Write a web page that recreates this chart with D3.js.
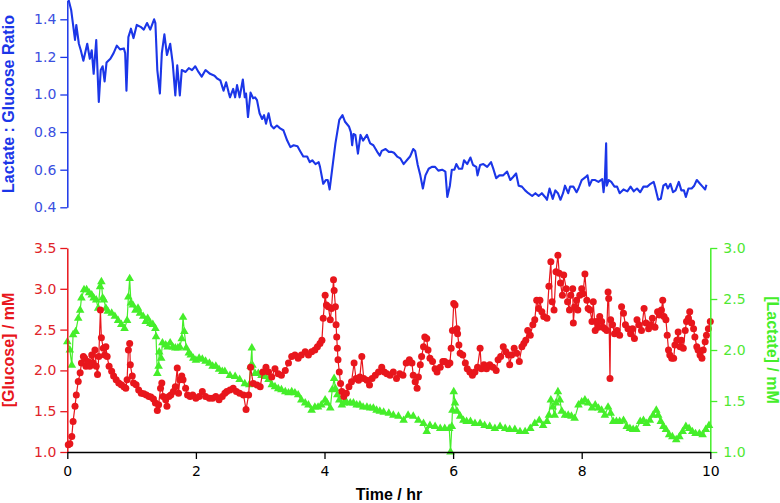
<!DOCTYPE html>
<html>
<head>
<meta charset="utf-8">
<script src="https://cdn.jsdelivr.net/npm/d3@7"></script>
<style>
	body { margin: 0; background: #fff; }
	svg { display: block; }
	.tick text { font-family: "DejaVu Sans", sans-serif; font-size: 14px; }
	.axisTitle { font-family: "Liberation Sans", Arial, sans-serif; font-size: 16px; font-weight: bold; }
</style>
</head>
<body>
<div id="chart"></div>
<script>
// time axis (hr)
const xTicks = [0, 2, 4, 6, 8, 10];
const ratioTicks = [0.4, 0.6, 0.8, 1.0, 1.2, 1.4];
const glucoseTicks = [1.0, 1.5, 2.0, 2.5, 3.0, 3.5];
const lactateTicks = [1.0, 1.5, 2.0, 2.5, 3.0];

// Lactate : Glucose ratio, top panel
const ratioTime = [0.00, 0.06, 0.12, 0.14, 0.18, 0.21, 0.25, 0.31, 0.35, 0.38, 0.41, 0.45, 0.49, 0.52, 0.55, 0.58, 0.61, 0.67, 0.72, 0.77,
	0.82, 0.88, 0.90, 0.92, 0.95, 0.99, 1.03, 1.08, 1.14, 1.19, 1.24, 1.29, 1.35, 1.37, 1.40, 1.44, 1.47, 1.51, 1.55, 1.60,
	1.64, 1.68, 1.71, 1.75, 1.78, 1.84, 1.89, 1.94, 1.99, 2.04, 2.09, 2.15, 2.22, 2.29, 2.33, 2.38, 2.43, 2.47, 2.51, 2.53,
	2.58, 2.61, 2.64, 2.68, 2.73, 2.76, 2.78, 2.81, 2.85, 2.89, 2.92, 2.95, 2.99, 3.03, 3.06, 3.09, 3.13, 3.17, 3.21, 3.26,
	3.31, 3.36, 3.42, 3.47, 3.52, 3.58, 3.62, 3.67, 3.73, 3.77, 3.81, 3.86, 3.91, 3.93, 3.98, 4.02, 4.05, 4.08, 4.12, 4.17,
	4.23, 4.28, 4.32, 4.38, 4.41, 4.43, 4.45, 4.48, 4.52, 4.56, 4.60, 4.66, 4.71, 4.76, 4.82, 4.86, 4.89, 4.95, 5.00, 5.04,
	5.08, 5.13, 5.18, 5.23, 5.28, 5.33, 5.38, 5.41, 5.45, 5.49, 5.53, 5.57, 5.62, 5.67, 5.72, 5.77, 5.83, 5.88, 5.91, 5.95,
	5.98, 6.02, 6.05, 6.09, 6.14, 6.17, 6.22, 6.27, 6.31, 6.36, 6.38, 6.42, 6.47, 6.53, 6.59, 6.63, 6.67, 6.72, 6.78, 6.84,
	6.89, 6.93, 6.98, 7.02, 7.07, 7.12, 7.17, 7.23, 7.28, 7.33, 7.38, 7.43, 7.46, 7.50, 7.55, 7.59, 7.63, 7.67, 7.71, 7.74,
	7.79, 7.82, 7.87, 7.92, 7.95, 8.00, 8.06, 8.09, 8.12, 8.16, 8.21, 8.26, 8.32, 8.34, 8.36, 8.38, 8.39, 8.42, 8.46, 8.51,
	8.55, 8.59, 8.65, 8.71, 8.76, 8.81, 8.86, 8.91, 8.96, 9.02, 9.07, 9.12, 9.14, 9.19, 9.23, 9.27, 9.31, 9.34, 9.38, 9.42,
	9.46, 9.51, 9.55, 9.59, 9.62, 9.66, 9.71, 9.75, 9.79, 9.84, 9.88, 9.92, 9.94];
const ratioValue = [1.53, 1.45, 1.29, 1.37, 1.27, 1.235, 1.18, 1.27, 1.19, 1.235, 1.11, 1.29, 0.96, 1.13, 1.15, 1.07, 1.17, 1.19, 1.22, 1.26,
	1.24, 1.245, 1.22, 1.02, 1.305, 1.35, 1.30, 1.37, 1.36, 1.345, 1.38, 1.345, 1.40, 1.38, 1.13, 1.005, 1.22, 1.32, 1.21, 1.27,
	1.165, 0.995, 1.155, 0.995, 1.13, 1.12, 1.14, 1.13, 1.15, 1.12, 1.095, 1.13, 1.11, 1.10, 1.085, 1.075, 1.02, 1.065, 1.01, 0.985,
	1.03, 0.985, 1.05, 0.985, 1.08, 0.985, 1.005, 0.88, 1.01, 0.98, 0.985, 0.97, 0.90, 0.87, 0.89, 0.845, 0.90, 0.835, 0.82, 0.835,
	0.82, 0.81, 0.755, 0.72, 0.73, 0.725, 0.70, 0.67, 0.67, 0.64, 0.65, 0.63, 0.64, 0.615, 0.525, 0.545, 0.545, 0.495, 0.605, 0.74,
	0.865, 0.89, 0.855, 0.83, 0.80, 0.73, 0.79, 0.785, 0.685, 0.785, 0.755, 0.785, 0.74, 0.73, 0.695, 0.675, 0.70, 0.71, 0.695, 0.695,
	0.69, 0.67, 0.66, 0.63, 0.65, 0.67, 0.71, 0.70, 0.625, 0.57, 0.50, 0.57, 0.605, 0.615, 0.615, 0.595, 0.60, 0.59, 0.455, 0.515,
	0.60, 0.60, 0.63, 0.605, 0.605, 0.65, 0.63, 0.665, 0.625, 0.615, 0.57, 0.625, 0.63, 0.615, 0.64, 0.60, 0.555, 0.57, 0.57, 0.59,
	0.545, 0.56, 0.58, 0.515, 0.51, 0.49, 0.475, 0.46, 0.475, 0.46, 0.475, 0.455, 0.44, 0.50, 0.445, 0.49, 0.475, 0.44, 0.475, 0.515,
	0.475, 0.51, 0.51, 0.48, 0.50, 0.545, 0.56, 0.57, 0.515, 0.545, 0.545, 0.535, 0.55, 0.48, 0.545, 0.74, 0.515, 0.545, 0.535, 0.51,
	0.51, 0.475, 0.495, 0.485, 0.51, 0.485, 0.50, 0.48, 0.51, 0.51, 0.525, 0.535, 0.51, 0.44, 0.445, 0.515, 0.525, 0.50, 0.525, 0.48,
	0.49, 0.535, 0.49, 0.49, 0.455, 0.50, 0.50, 0.515, 0.545, 0.525, 0.51, 0.495, 0.52];

// [Glucose] / mM, bottom panel, red circles
const glucoseTime = [0.015, 0.04, 0.07, 0.09, 0.12, 0.14, 0.17, 0.20, 0.22, 0.25, 0.27, 0.29, 0.32, 0.35, 0.38, 0.40, 0.43, 0.45, 0.47, 0.49,
	0.515, 0.53, 0.56, 0.58, 0.60, 0.62, 0.65, 0.69, 0.72, 0.76, 0.80, 0.84, 0.88, 0.91, 0.93, 0.95, 0.97, 0.98, 1.01, 1.03,
	1.07, 1.11, 1.15, 1.19, 1.23, 1.27, 1.30, 1.34, 1.37, 1.40, 1.42, 1.45, 1.47, 1.49, 1.53, 1.55, 1.58, 1.61, 1.65, 1.68,
	1.71, 1.73, 1.75, 1.78, 1.80, 1.84, 1.87, 1.91, 1.95, 2.00, 2.05, 2.10, 2.15, 2.21, 2.26, 2.31, 2.36, 2.41, 2.45, 2.48,
	2.53, 2.58, 2.63, 2.68, 2.74, 2.78, 2.82, 2.85, 2.89, 2.95, 3.00, 3.04, 3.09, 3.13, 3.18, 3.23, 3.28, 3.33, 3.39, 3.44,
	3.49, 3.54, 3.59, 3.64, 3.70, 3.75, 3.80, 3.85, 3.89, 3.93, 3.96, 3.98, 4.01, 4.03, 4.06, 4.09, 4.11, 4.14, 4.15, 4.17,
	4.18, 4.19, 4.20, 4.21, 4.23, 4.25, 4.27, 4.30, 4.34, 4.38, 4.42, 4.46, 4.49, 4.53, 4.55, 4.58, 4.61, 4.66, 4.70, 4.74,
	4.79, 4.84, 4.89, 4.93, 4.97, 5.02, 5.07, 5.12, 5.17, 5.22, 5.27, 5.32, 5.36, 5.38, 5.41, 5.44, 5.46, 5.49, 5.51, 5.54,
	5.56, 5.59, 5.61, 5.64, 5.68, 5.72, 5.75, 5.80, 5.84, 5.87, 5.92, 5.95, 5.97, 5.99, 6.01, 6.03, 6.06, 6.07, 6.09, 6.11,
	6.15, 6.19, 6.22, 6.26, 6.30, 6.34, 6.38, 6.42, 6.44, 6.48, 6.52, 6.57, 6.62, 6.67, 6.70, 6.74, 6.78, 6.82, 6.86, 6.88,
	6.91, 6.95, 6.99, 7.03, 7.07, 7.10, 7.13, 7.16, 7.20, 7.24, 7.27, 7.30, 7.33, 7.35, 7.38, 7.41, 7.46, 7.49, 7.52, 7.54,
	7.57, 7.60, 7.63, 7.65, 7.67, 7.70, 7.72, 7.76, 7.78, 7.81, 7.83, 7.86, 7.87, 7.89, 7.92, 7.94, 7.97, 8.00, 8.02, 8.05,
	8.08, 8.10, 8.13, 8.16, 8.18, 8.21, 8.23, 8.26, 8.28, 8.31, 8.33, 8.36, 8.39, 8.41, 8.42, 8.44, 8.45, 8.48, 8.51, 8.55,
	8.59, 8.62, 8.65, 8.68, 8.72, 8.76, 8.79, 8.82, 8.86, 8.89, 8.93, 8.97, 9.00, 9.04, 9.07, 9.10, 9.14, 9.18, 9.21, 9.24,
	9.26, 9.28, 9.31, 9.33, 9.35, 9.37, 9.40, 9.43, 9.45, 9.48, 9.50, 9.53, 9.55, 9.58, 9.61, 9.63, 9.66, 9.68, 9.71, 9.74,
	9.76, 9.79, 9.81, 9.84, 9.87, 9.89, 9.92, 9.94, 9.97, 10.0];
const glucoseValue = [1.09, 1.10, 1.19, 1.375, 1.56, 1.70, 1.865, 1.97, 2.09, 2.17, 2.15, 2.05, 2.11, 2.05, 2.19, 2.09, 2.25, 2.05, 1.95, 2.17,
	2.74, 2.40, 2.27, 2.19, 2.29, 2.17, 2.05, 1.99, 1.93, 1.885, 1.845, 1.825, 1.80, 1.78, 1.885, 2.25, 2.33, 2.07, 1.93, 1.845,
	1.825, 1.76, 1.72, 1.715, 1.70, 1.68, 1.675, 1.65, 1.60, 1.51, 1.58, 1.78, 1.845, 1.68, 1.64, 1.56, 1.68, 1.70, 1.74, 1.80,
	2.03, 1.72, 1.885, 1.93, 1.885, 1.78, 1.70, 1.68, 1.70, 1.66, 1.68, 1.74, 1.68, 1.66, 1.66, 1.68, 1.64, 1.68, 1.72, 1.74,
	1.76, 1.78, 1.74, 1.72, 1.70, 1.52, 1.70, 2.04, 1.84, 1.82, 1.80, 1.98, 2.04, 1.98, 1.92, 2.02, 1.96, 1.94, 2.00, 2.09,
	2.17, 2.19, 2.15, 2.19, 2.23, 2.19, 2.23, 2.25, 2.29, 2.33, 2.37, 2.64, 2.92, 2.80, 2.78, 2.62, 2.76, 3.11, 2.98, 2.78,
	2.56, 2.41, 2.27, 2.13, 1.98, 1.84, 1.74, 1.68, 1.72, 1.80, 1.86, 2.09, 1.90, 1.88, 1.92, 2.17, 1.90, 1.88, 1.82, 1.90,
	1.94, 1.98, 2.04, 1.98, 1.96, 1.94, 1.98, 1.90, 1.96, 1.94, 2.09, 2.13, 2.09, 1.94, 1.86, 1.78, 1.92, 2.07, 2.17, 2.29,
	2.41, 2.39, 2.25, 2.15, 2.11, 2.02, 1.98, 2.04, 2.11, 2.11, 2.07, 2.09, 2.27, 2.49, 2.82, 2.80, 2.51, 2.45, 2.31, 2.21,
	2.19, 2.09, 2.02, 1.98, 1.94, 1.98, 2.04, 2.27, 2.02, 2.07, 2.02, 2.07, 2.04, 2.00, 2.13, 2.17, 2.29, 2.23, 2.19, 2.07,
	2.19, 2.27, 2.21, 2.11, 2.29, 2.33, 2.37, 2.49, 2.43, 2.56, 2.62, 2.86, 2.76, 2.86, 2.72, 2.66, 2.64, 3.03, 3.33, 2.84,
	2.74, 3.21, 3.41, 3.19, 3.07, 2.92, 3.17, 3.00, 2.84, 2.74, 2.92, 3.00, 2.58, 2.78, 2.86, 2.74, 2.92, 3.00, 2.94, 3.18,
	2.86, 2.76, 2.74, 2.60, 2.84, 2.49, 2.60, 2.53, 2.66, 2.60, 2.53, 2.51, 2.49, 2.96, 2.88, 1.90, 2.62, 2.56, 2.45, 2.49,
	2.43, 2.78, 2.70, 2.56, 2.51, 2.45, 2.51, 2.39, 2.62, 2.56, 2.49, 2.76, 2.58, 2.51, 2.56, 2.64, 2.53, 2.72, 2.68, 2.74,
	2.86, 2.66, 2.62, 2.43, 2.25, 2.19, 2.15, 2.15, 2.31, 2.37, 2.47, 2.29, 2.37, 2.27, 2.49, 2.60, 2.64, 2.72, 2.58, 2.51,
	2.41, 2.29, 2.25, 2.19, 2.15, 2.25, 2.35, 2.43, 2.51, 2.60];

// [Lactate] / mM, bottom panel, green triangles
const lactateTime = [0.00, 0.04, 0.07, 0.09, 0.13, 0.17, 0.20, 0.22, 0.26, 0.30, 0.34, 0.38, 0.41, 0.45, 0.48, 0.51, 0.53, 0.55, 0.57, 0.60,
	0.63, 0.69, 0.74, 0.79, 0.84, 0.89, 0.93, 0.95, 0.97, 0.99, 1.02, 1.06, 1.10, 1.13, 1.18, 1.22, 1.25, 1.29, 1.33, 1.37,
	1.38, 1.40, 1.42, 1.43, 1.46, 1.48, 1.53, 1.56, 1.60, 1.64, 1.68, 1.72, 1.75, 1.78, 1.80, 1.82, 1.85, 1.89, 1.92, 1.96,
	2.00, 2.05, 2.10, 2.15, 2.21, 2.26, 2.31, 2.36, 2.41, 2.45, 2.53, 2.61, 2.68, 2.76, 2.83, 2.85, 2.87, 2.88, 2.92, 2.97,
	3.02, 3.08, 3.13, 3.18, 3.23, 3.28, 3.33, 3.39, 3.44, 3.49, 3.54, 3.59, 3.64, 3.70, 3.75, 3.80, 3.85, 3.90, 3.95, 4.01,
	4.04, 4.09, 4.12, 4.15, 4.17, 4.20, 4.23, 4.27, 4.30, 4.34, 4.40, 4.45, 4.50, 4.55, 4.60, 4.66, 4.71, 4.76, 4.81, 4.86,
	4.92, 5.00, 5.07, 5.15, 5.23, 5.30, 5.38, 5.46, 5.54, 5.59, 5.64, 5.72, 5.80, 5.87, 5.94, 5.96, 5.98, 5.99, 6.01, 6.03,
	6.06, 6.11, 6.16, 6.21, 6.27, 6.34, 6.42, 6.49, 6.57, 6.65, 6.73, 6.81, 6.88, 6.96, 7.04, 7.12, 7.20, 7.27, 7.34, 7.40,
	7.46, 7.49, 7.52, 7.55, 7.58, 7.60, 7.63, 7.66, 7.69, 7.74, 7.79, 7.84, 7.89, 7.95, 8.00, 8.05, 8.10, 8.16, 8.21, 8.26,
	8.31, 8.36, 8.41, 8.45, 8.49, 8.54, 8.59, 8.65, 8.70, 8.75, 8.80, 8.85, 8.91, 8.96, 9.01, 9.06, 9.11, 9.16, 9.19, 9.23,
	9.27, 9.31, 9.36, 9.41, 9.47, 9.52, 9.57, 9.62, 9.67, 9.72, 9.77, 9.83, 9.88, 9.93, 9.98];
const lactateValue = [2.08, 2.00, 1.85, 2.15, 2.18, 2.31, 2.39, 2.51, 2.59, 2.59, 2.56, 2.54, 2.51, 2.49, 2.41, 2.62, 2.67, 2.51, 2.49, 2.41,
	2.38, 2.36, 2.33, 2.29, 2.25, 2.21, 2.29, 2.52, 2.70, 2.46, 2.44, 2.39, 2.41, 2.36, 2.33, 2.28, 2.31, 2.26, 2.25, 2.21,
	2.13, 1.77, 1.84, 1.98, 1.92, 2.07, 2.05, 2.03, 2.07, 2.03, 2.02, 2.02, 2.03, 2.11, 2.32, 2.18, 2.02, 1.97, 1.95, 1.92,
	1.90, 1.92, 1.91, 1.89, 1.87, 1.84, 1.84, 1.81, 1.79, 1.79, 1.75, 1.74, 1.71, 1.67, 1.66, 1.84, 2.02, 1.85, 1.77, 1.77,
	1.75, 1.74, 1.71, 1.66, 1.64, 1.62, 1.61, 1.59, 1.58, 1.59, 1.58, 1.56, 1.51, 1.48, 1.46, 1.41, 1.44, 1.44, 1.46, 1.51,
	1.48, 1.43, 1.61, 1.72, 1.62, 1.56, 1.51, 1.46, 1.48, 1.49, 1.48, 1.48, 1.46, 1.46, 1.44, 1.44, 1.43, 1.43, 1.41, 1.40,
	1.39, 1.38, 1.36, 1.35, 1.31, 1.36, 1.35, 1.31, 1.28, 1.20, 1.26, 1.25, 1.23, 1.23, 1.23, 1.00, 1.25, 1.41, 1.59, 1.48,
	1.40, 1.35, 1.31, 1.30, 1.30, 1.28, 1.28, 1.26, 1.25, 1.23, 1.25, 1.23, 1.22, 1.22, 1.20, 1.20, 1.23, 1.28, 1.31, 1.26,
	1.30, 1.36, 1.51, 1.44, 1.36, 1.48, 1.59, 1.51, 1.40, 1.36, 1.36, 1.35, 1.33, 1.46, 1.49, 1.51, 1.48, 1.43, 1.46, 1.43,
	1.41, 1.36, 1.44, 1.38, 1.30, 1.30, 1.30, 1.31, 1.25, 1.23, 1.22, 1.22, 1.30, 1.31, 1.28, 1.31, 1.36, 1.41, 1.36, 1.30,
	1.25, 1.22, 1.17, 1.15, 1.12, 1.15, 1.20, 1.25, 1.23, 1.20, 1.18, 1.18, 1.17, 1.22, 1.26];

const blue = "#1b36e8",
	red = "#e8161c",
	green = "#45ee2a";

const width = 780,
	height = 503;

const svg = d3.select("#chart")
	.append("svg")
	.attr("width", width)
	.attr("height", height);

const xScale = d3.scaleLinear().domain([0, 10]).range([67.3, 710.3]);
const ratioScale = d3.scaleLinear().domain([0.4, 1.5]).range([207.3, 0.5]);
const glucoseScale = d3.scaleLinear().domain([1.0, 3.5]).range([452, 248]);
const lactateScale = d3.scaleLinear().domain([1.0, 3.0]).range([452, 248]);

function styleAxis(g, color, textColor) {
	g.selectAll(".domain").attr("stroke", color).attr("stroke-width", 1.5);
	g.selectAll(".tick line").attr("stroke", color).attr("stroke-width", 1.3);
	g.selectAll(".tick text").attr("fill", textColor);
}

// top panel: ratio line
const ratioData = ratioTime.map((t, i) => ({t: t, v: ratioValue[i]}));
const ratioLine = d3.line()
	.x(d => xScale(d.t))
	.y(d => ratioScale(d.v));

svg.append("path")
	.datum(ratioData)
	.attr("fill", "none")
	.attr("stroke", blue)
	.attr("stroke-width", 2.1)
	.attr("stroke-linejoin", "round")
	.attr("d", ratioLine);

svg.append("g")
	.attr("transform", "translate(" + xScale(0) + ",0)")
	.call(d3.axisLeft(ratioScale).tickValues(ratioTicks).tickSize(7).tickSizeOuter(0).tickPadding(4).tickFormat(d3.format(".1f")))
	.call(g => styleAxis(g, blue, "#3a4fe0"));

// bottom panel: lactate (green) below, glucose (red) on top
const lactateData = lactateTime.map((t, i) => ({t: t, v: lactateValue[i]}));
const glucoseData = glucoseTime.map((t, i) => ({t: t, v: glucoseValue[i]}));

svg.append("path")
	.datum(lactateData)
	.attr("fill", "none")
	.attr("stroke", green)
	.attr("stroke-width", 1.2)
	.attr("d", d3.line().x(d => xScale(d.t)).y(d => lactateScale(d.v)));

svg.append("g")
	.selectAll("path")
	.data(lactateData)
	.join("path")
	.attr("transform", d => "translate(" + xScale(d.t) + "," + lactateScale(d.v) + ")")
	.attr("d", d3.symbol(d3.symbolTriangle, 32))
	.attr("fill", green);

svg.append("path")
	.datum(glucoseData)
	.attr("fill", "none")
	.attr("stroke", red)
	.attr("stroke-width", 1.2)
	.attr("d", d3.line().x(d => xScale(d.t)).y(d => glucoseScale(d.v)));

svg.append("g")
	.selectAll("circle")
	.data(glucoseData)
	.join("circle")
	.attr("cx", d => xScale(d.t))
	.attr("cy", d => glucoseScale(d.v))
	.attr("r", 3.5)
	.attr("fill", red);

// bottom panel axes
svg.append("g")
	.attr("transform", "translate(" + xScale(0) + ",0)")
	.call(d3.axisLeft(glucoseScale).tickValues(glucoseTicks).tickSize(7).tickSizeOuter(0).tickPadding(4).tickFormat(d3.format(".1f")))
	.call(g => styleAxis(g, red, "#e0242a"));

svg.append("g")
	.attr("transform", "translate(" + xScale(10) + ",0)")
	.call(d3.axisRight(lactateScale).tickValues(lactateTicks).tickSize(7).tickSizeOuter(0).tickPadding(6).tickFormat(d3.format(".1f")))
	.call(g => styleAxis(g, green, "#4fe832"));

svg.append("g")
	.attr("transform", "translate(0," + glucoseScale(1.0) + ")")
	.call(d3.axisBottom(xScale).tickValues(xTicks).tickSize(7).tickSizeOuter(0).tickPadding(7).tickFormat(d3.format("d")))
	.call(g => styleAxis(g, "#000", "#000"));

// axis titles
svg.append("text")
	.attr("class", "axisTitle")
	.attr("transform", "translate(14,104) rotate(-90)")
	.attr("text-anchor", "middle")
	.attr("fill", blue)
	.text("Lactate : Glucose Ratio");

svg.append("text")
	.attr("class", "axisTitle")
	.attr("transform", "translate(14,350) rotate(-90)")
	.attr("text-anchor", "middle")
	.attr("fill", red)
	.text("[Glucose] / mM");

svg.append("text")
	.attr("class", "axisTitle")
	.attr("transform", "translate(767,350) rotate(90)")
	.attr("text-anchor", "middle")
	.attr("fill", green)
	.text("[Lactate] / mM");

svg.append("text")
	.attr("class", "axisTitle")
	.attr("x", 389)
	.attr("y", 500)
	.attr("text-anchor", "middle")
	.attr("fill", "#000")
	.text("Time / hr");
</script>
</body>
</html>
